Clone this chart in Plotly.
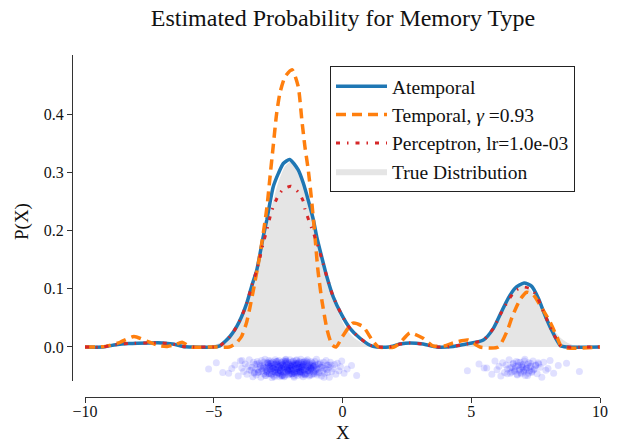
import plotly.graph_objects as go

# ---------------- data ----------------
atemporal_x = [-10, -9.3, -8.8, -8.3, -7.5, -7.0, -6.6, -6.2, -5.8, -5.0, -4.76, -4.37, -4.11, -3.92, -3.72,
               -3.53, -3.33, -3.2, -3.08, -2.94, -2.82, -2.69, -2.49, -2.3, -2.05, -1.72, -1.52, -1.33, -1.13,
               -1.0, -0.81, -0.61, -0.36, -0.03, 0.29, 0.68, 1.07, 1.33, 1.8, 2.23, 2.62, 3.13, 3.66, 4.3, 4.82,
               5.47, 5.86, 6.18, 6.44, 6.70, 7.05, 7.35, 7.6, 7.86, 8.12, 8.32, 8.47, 8.7, 10]
atemporal_y = [0, 0, 0.004, 0.006, 0.007, 0.007, 0.005, 0.001, 0, 0, 0.002, 0.018, 0.035, 0.052, 0.075,
               0.104, 0.132, 0.161, 0.189, 0.218, 0.247, 0.275, 0.298, 0.315, 0.322, 0.304, 0.281, 0.252, 0.218,
               0.189, 0.155, 0.121, 0.086, 0.055, 0.032, 0.015, 0.003, 0, 0, 0.005, 0.007, 0.005, 0.0, 0.001, 0.005,
               0.012, 0.032, 0.061, 0.084, 0.101, 0.110, 0.104, 0.084, 0.055, 0.029, 0.012, 0.002, 0, 0]

temporal_x = [-10, -9.5, -9.2, -8.64, -8.1, -7.6, -7.1, -6.8, -6.5, -6.23, -5.9, -5.0, -4.4, -4.15, -3.92,
              -3.72, -3.59, -3.46, -3.2, -2.94, -2.82, -2.69, -2.56, -2.43, -2.23, -1.96, -1.72, -1.58, -1.46,
              -1.33, -1.2, -1.07, -0.95, -0.8, -0.6, -0.41, -0.25, 0.0, 0.4, 0.8, 1.15, 1.4, 2.0, 2.23, 2.62,
              3.13, 3.5, 4.0, 4.3, 4.87, 5.34, 6.05, 6.39, 6.6, 6.89, 7.15, 7.4, 7.67, 8.06, 8.33, 8.52, 10]
temporal_y = [0, 0, 0.001, 0.008, 0.018, 0.01, 0.002, 0.001, 0.004, 0.008, 0.0, 0, 0, 0.006, 0.018,
              0.043, 0.069, 0.098, 0.16, 0.238, 0.29, 0.345, 0.4, 0.436, 0.464, 0.476, 0.447, 0.39, 0.344,
              0.304, 0.252, 0.19, 0.13, 0.08, 0.03, 0.004, 0.0, 0.018, 0.041, 0.035, 0.012, 0, 0, 0.007, 0.024,
              0.015, 0.002, 0.002, 0.007, 0.012, 0, 0, 0.027, 0.053, 0.081, 0.094, 0.09, 0.072, 0.043, 0.017, 0, 0]

perceptron_x = [-10, -9.3, -8.8, -8.3, -7.5, -7.0, -6.6, -6.2, -5.8, -5.0, -4.76, -4.37, -4.11, -3.92, -3.72,
                -3.53, -3.33, -3.2, -3.08, -2.94, -2.82, -2.69, -2.49, -2.3, -2.0, -1.72, -1.52, -1.46, -1.2,
                -1.0, -0.81, -0.61, -0.36, -0.03, 0.29, 0.68, 1.07, 1.33, 1.8, 2.23, 2.62, 3.13, 3.66, 4.3, 4.82,
                5.47, 5.86, 6.18, 6.44, 6.70, 7.0, 7.35, 7.6, 7.86, 8.12, 8.32, 8.47, 8.7, 10]
perceptron_y = [0, 0, 0.004, 0.006, 0.007, 0.007, 0.005, 0.001, 0, 0, 0.002, 0.018, 0.035, 0.052, 0.075,
                0.104, 0.132, 0.155, 0.178, 0.200, 0.222, 0.241, 0.260, 0.271, 0.276, 0.266, 0.250, 0.237, 0.204,
                0.180, 0.152, 0.121, 0.086, 0.055, 0.032, 0.015, 0.003, 0, 0, 0.005, 0.007, 0.005, 0.0, 0.001, 0.005,
                0.012, 0.032, 0.060, 0.080, 0.096, 0.103, 0.099, 0.082, 0.055, 0.029, 0.012, 0.002, 0, 0]

true_x = [-10, -6.5, -6, -5.5, -5, -4.75, -4.5, -4.25, -4, -3.75, -3.5, -3.25, -3, -2.75, -2.5, -2.25, -2,
          -1.75, -1.5, -1.25, -1, -0.75, -0.5, -0.25, 0, 0.25, 0.5, 0.75, 1, 1.5, 2, 3, 4, 4.5, 5, 5.25, 5.5,
          5.75, 6, 6.25, 6.5, 6.75, 7, 7.25, 7.5, 7.75, 8, 8.25, 8.5, 8.75, 9, 9.5, 10]
true_y = [0, 0, 0.0001, 0.0007, 0.0035, 0.0073, 0.014, 0.025, 0.043, 0.069, 0.104, 0.146, 0.194, 0.241,
          0.282, 0.309, 0.319, 0.309, 0.282, 0.241, 0.194, 0.146, 0.104, 0.069, 0.043, 0.025, 0.014, 0.0073,
          0.0035, 0.0007, 0.0001, 0, 0, 0.0004, 0.003, 0.007, 0.0144, 0.0265, 0.0437, 0.0645, 0.085, 0.101,
          0.106, 0.101, 0.085, 0.0645, 0.0437, 0.0265, 0.0144, 0.007, 0.003, 0.0004, 0]

samples_main_x = [
    -5.2, -4.9, -4.42, -4.18, -4.05,
    -3.97, -3.91, -3.84, -3.78, -3.71, -3.66, -3.62, -3.55, -3.52,
    -3.48, -3.46, -3.43, -3.40, -3.37, -3.35, -3.31, -3.29, -3.26, -3.23, -3.2, -3.17, -3.14, -3.12, -3.09,
    -3.06, -3.04, -3.01,
    -2.98, -2.96, -2.93, -2.92, -2.88, -2.86, -2.85, -2.81, -2.79, -2.78, -2.76, -2.73, -2.71, -2.7, -2.68,
    -2.66, -2.65, -2.63, -2.61, -2.6, -2.58, -2.57, -2.56, -2.54, -2.53, -2.52, -2.51, -2.74, -2.83, -2.9,
    -2.49, -2.48, -2.47, -2.45, -2.44, -2.43, -2.41, -2.4, -2.39, -2.37, -2.36, -2.34, -2.33, -2.31, -2.3,
    -2.29, -2.27, -2.26, -2.24, -2.23, -2.22, -2.2, -2.19, -2.17, -2.16, -2.15, -2.13, -2.12, -2.1, -2.09,
    -2.08, -2.06, -2.05, -2.04, -2.03, -2.02, -2.01, -2.35,
    -1.99, -1.98, -1.96, -1.95, -1.94, -1.92, -1.91, -1.9, -1.88, -1.87, -1.86, -1.84, -1.83, -1.81, -1.8,
    -1.79, -1.77, -1.76, -1.74, -1.73, -1.72, -1.7, -1.69, -1.67, -1.66, -1.65, -1.63, -1.62, -1.6, -1.59,
    -1.58, -1.56, -1.55, -1.54, -1.53, -1.52, -1.51, -1.85,
    -1.49, -1.47, -1.46, -1.44, -1.42, -1.41, -1.39, -1.37, -1.36, -1.34, -1.32, -1.3, -1.29, -1.27, -1.25,
    -1.23, -1.22, -1.2, -1.18, -1.16, -1.14, -1.13, -1.11, -1.09, -1.07, -1.06, -1.04, -1.03, -1.02, -1.01,
    -0.98, -0.95, -0.93, -0.9, -0.87, -0.84, -0.82, -0.79, -0.76, -0.73, -0.7, -0.67, -0.64, -0.61, -0.58,
    -0.56, -0.53, -0.51,
    -0.47, -0.42, -0.37, -0.31, -0.26, -0.2, -0.14, -0.08, -0.03,
    0.06, 0.18, 0.35, 0.55,
    -3.28, -3.19, -3.11, -3.05, -2.99, -2.95, -2.91, -2.87, -2.84, -2.8, -2.77, -2.72, -2.69, -2.64, -2.62,
    -2.59, -2.55, -2.5, -2.46, -2.42, -2.38, -2.32, -2.28, -2.25, -2.21, -2.18, -2.14, -2.11, -2.07, -2.0,
    -1.97, -1.93, -1.89, -1.82, -1.78, -1.75, -1.71, -1.68, -1.64, -1.61, -1.57, -1.5, -1.45, -1.4, -1.35,
    -1.31, -1.26, -1.21, -1.17, -1.12, -1.08, -1.0, -0.94, -0.88, -0.8, -0.72, -0.6, -3.6, -3.9, -4.3,
    -2.97, -2.89, -2.82, -2.75, -2.67, -2.58, -2.49, -2.41, -2.33, -2.26, -2.18, -2.1, -2.02, -1.94, -1.86,
    -1.78, -1.7, -1.62, -1.54, -1.46, -1.38, -1.3, -1.22, -1.15, -3.42, -3.33, -3.16, -3.07, -2.44, -2.36,
    -2.2, -2.14, -1.98, -1.9, -1.8, -1.66, -1.58, -1.48, -1.33, -1.24, -2.92, -2.8, -2.71, -2.63, -2.53,
    -2.39, -2.29, -2.23, -2.12, -2.05, -1.96, -1.87, -1.76, -1.69, -1.6, -1.5, -1.43, -1.28, -0.45, -4.65]
samples_main_jitter = [
    38, 27, 45, 31, 50, 24, 36, 42, 29, 47, 33, 22, 40, 35, 51, 26, 44, 30, 37, 48,
    25, 39, 43, 28, 34, 52, 23, 41, 32, 46, 36, 21, 49, 38, 27, 43, 31, 45, 35, 29,
    40, 24, 47, 33, 37, 26, 50, 30, 42, 39, 22, 44, 34, 28, 48, 36, 25, 41, 31, 53,
    38, 27, 45, 33, 23, 40, 35, 46, 29, 42, 32, 37, 26, 49, 30, 43, 24, 39, 36, 51,
    28, 44, 34, 21, 47, 31, 38, 25, 41, 35, 48, 27, 43, 32, 37, 22, 45, 30, 40, 50,
    33, 26, 46, 36, 29, 42, 24, 39, 52, 31, 44, 28, 35, 47, 23, 41, 37, 30, 49, 34,
    27, 43, 38, 25, 46, 32, 40, 21, 36, 48, 29, 44, 33, 26, 51, 39, 31, 42, 35, 24,
    47, 30, 37, 28, 45, 34, 22, 41, 38, 50, 27, 43, 32, 36, 25, 48, 40, 29, 46, 33,
    34, 46, 25, 40, 31, 43, 36, 21, 48, 29, 38, 44, 27, 35, 50, 32, 41, 26, 45, 37,
    23, 39, 44, 31, 35, 52, 26, 42, 37, 30, 47, 28, 41, 34, 24, 45, 38, 32, 49,
    44, 31, 37, 26, 49, 35, 40, 23, 46, 33, 28, 42, 36, 51, 30, 39, 25, 45, 34, 41,
    27, 48, 32, 38, 22, 43, 36, 29, 47, 34, 40, 25, 50, 31, 37, 44, 28, 35, 42, 26,
    33, 46, 39, 24, 41, 30, 48, 36, 27, 43, 32, 38, 45, 29, 35, 52, 31, 40, 23, 37,
    42, 28, 34, 47, 36, 25, 44, 39, 31, 50, 27, 41, 33, 46, 38, 22, 35, 43, 30, 48,
    26, 40, 37, 32, 45, 29, 42, 34, 51, 36, 24, 39, 47, 31, 28, 44, 35, 41, 33, 38,
    46, 27, 36, 43, 30, 49, 34, 25, 40, 37, 32, 45, 29, 42, 38, 26, 47, 35, 31, 44]

samples_side_x = [4.85, 5.3, 5.6, 5.8, 5.92, 6.0, 6.08, 6.15, 6.22, 6.29, 6.35, 6.41, 6.47, 6.52, 6.58, 6.63,
                  6.67, 6.71, 6.75, 6.79, 6.83, 6.86, 6.9, 6.94, 6.97, 7.01, 7.04, 7.08, 7.12, 7.15, 7.19, 7.23,
                  7.27, 7.31, 7.35, 7.4, 7.45, 7.51, 7.56, 7.62, 7.68, 7.74, 7.81, 7.9, 7.98, 8.06, 8.2, 8.38,
                  8.7, 9.2,
                  6.5, 6.56, 6.62, 6.68, 6.73, 6.78, 6.82, 6.88, 6.92, 6.96, 7.0, 7.03, 7.06, 7.1, 7.14, 7.18,
                  7.22, 7.26, 7.3, 7.36, 7.42, 7.5, 6.4, 7.6, 5.5]
samples_side_jitter = [
    41, 29, 36, 47, 24, 39, 33, 50, 27, 44, 31, 38, 22, 45, 35, 28, 42, 37, 25, 48,
    32, 40, 26, 46, 34, 30, 43, 21, 39, 36, 49, 27, 41, 33, 44, 24, 38, 31, 46, 29,
    35, 52, 26, 40, 37, 23, 45, 32, 28, 42,
    36, 43, 29, 40, 33, 47, 26, 38, 44, 31, 35, 41, 24, 49, 37, 30, 45, 34, 28, 42,
    39, 32, 46, 27, 36]

x_tick_vals = [-10, -5, 0, 5, 10]
x_tick_text = ["\u221210", "\u22125", "0", "5", "10"]
y_tick_vals = [0.0, 0.1, 0.2, 0.3, 0.4]
y_tick_text = ["0.0", "0.1", "0.2", "0.3", "0.4"]

# ---------------- figure ----------------
W, H = 620, 443
FONT = "Liberation Serif, serif"
AX = "#333333"
TXT = "#111111"

samples_x = samples_main_x + samples_side_x
samples_y = [-j / 1000 for j in samples_main_jitter + samples_side_jitter]

fig = go.Figure()
fig.add_trace(go.Scatter(x=true_x, y=true_y, mode="lines", fill="tozeroy", fillcolor="#e5e5e5",
                         line=dict(width=0, color="#e5e5e5", shape="spline", smoothing=0.6),
                         name="True Distribution", legendrank=4, legendgroup="d", hoverinfo="skip"))
fig.add_trace(go.Scatter(x=samples_x, y=samples_y,
                         mode="markers", marker=dict(color="rgba(0,0,255,0.12)", size=7, line=dict(width=0)),
                         showlegend=False, hoverinfo="skip"))
fig.add_trace(go.Scatter(x=atemporal_x, y=atemporal_y, mode="lines", name="Atemporal",
                         line=dict(color="#1f77b4", width=3.5, shape="spline", smoothing=0.6),
                         legendrank=1, legendgroup="a"))
fig.add_trace(go.Scatter(x=temporal_x, y=temporal_y, mode="lines", name="Temporal, <i>\u03b3</i> =0.93",
                         line=dict(color="#ff7f0e", width=3.5, dash="10px,6px", shape="spline", smoothing=0.6),
                         legendrank=2, legendgroup="b"))
fig.add_trace(go.Scatter(x=perceptron_x, y=perceptron_y, mode="lines", name="Perceptron, lr=1.0e-03",
                         line=dict(color="#d62728", width=3, dash="4px,7px,1.5px,7px", shape="spline", smoothing=0.6),
                         legendrank=3, legendgroup="c"))

fig.update_layout(
    width=W, height=H, autosize=False,
    margin=dict(l=0, r=0, t=0, b=0),
    paper_bgcolor="white", plot_bgcolor="white",
    font=dict(family=FONT, color=TXT, size=16),
    title=dict(text="Estimated Probability for Memory Type", x=343 / W, xanchor="center",
               y=1 - 18 / H, yanchor="middle", xref="paper", yref="paper",
               font=dict(family=FONT, size=24, color=TXT)),
    showlegend=True,
    legend=dict(x=330 / W, y=1 - 66 / H, xanchor="left", yanchor="top",
                bgcolor="white", bordercolor="#222222", borderwidth=1,
                font=dict(family=FONT, size=19.5, color=TXT),
                traceorder="grouped", tracegroupgap=0, itemwidth=51),
    xaxis=dict(domain=[85 / W, 600 / W], range=[-10, 10], anchor="free", position=1 - 397 / H,
               showline=True, linecolor=AX, linewidth=1.2, ticks="outside", ticklen=5, tickcolor=AX,
               tickwidth=1.2, tickvals=x_tick_vals, ticktext=x_tick_text, showgrid=False, zeroline=False,
               ticklabelstandoff=-5,
               tickfont=dict(family=FONT, size=16, color=TXT), automargin=False),
    yaxis=dict(domain=[1 - 381 / H, 1 - 55 / H], range=[-0.0584, 0.5013], anchor="free", position=72 / W,
               showline=True, linecolor=AX, linewidth=1.2, ticks="outside", ticklen=5, tickcolor=AX,
               tickwidth=1.2, tickvals=y_tick_vals, ticktext=y_tick_text, showgrid=False, zeroline=False,
               tickfont=dict(family=FONT, size=16, color=TXT), automargin=False),
    annotations=[
        dict(text="X", x=343 / W, y=1 - 432 / H, xref="paper", yref="paper", showarrow=False,
             xanchor="center", yanchor="middle", font=dict(family=FONT, size=19, color=TXT)),
        dict(text="P(X)", x=22 / W, y=1 - 222 / H, xref="paper", yref="paper", showarrow=False,
             textangle=-90, xanchor="center", yanchor="middle", font=dict(family=FONT, size=19, color=TXT)),
    ],
)

fig.write_html("out.html", config={"displayModeBar": False},
               post_script="document.body.style.margin='0px';")
